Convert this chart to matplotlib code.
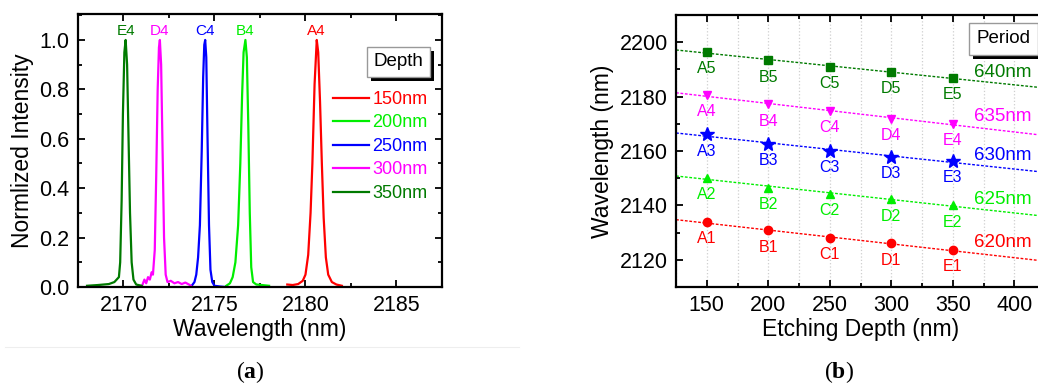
import matplotlib
matplotlib.use('Agg')
import matplotlib.pyplot as plt
import matplotlib.patheffects as pe
from matplotlib.ticker import MultipleLocator
import numpy as np

plt.rcParams['font.family'] = ['Liberation Sans', 'DejaVu Sans']
plt.rcParams['mathtext.fontset'] = 'custom'
plt.rcParams['mathtext.bf'] = 'Liberation Serif:bold'
plt.rcParams['mathtext.rm'] = 'Liberation Serif'

# ---- panel (a): normalized spectra ----
depths = ['150nm', '200nm', '250nm', '300nm', '350nm']
peak_names = ['A4', 'B4', 'C4', 'D4', 'E4']
colors = ['#ff0000', '#00ee00', '#0000ff', '#ff00ff', '#007a00']

a4_x = [2179.0, 2179.3, 2179.6, 2179.85, 2180.0, 2180.15, 2180.28, 2180.38, 2180.5, 2180.62,
        2180.7, 2180.8, 2180.9, 2181.0, 2181.12, 2181.25, 2181.45, 2181.7, 2182.0]
a4_y = [0.01, 0.008, 0.012, 0.025, 0.05, 0.13, 0.3, 0.5, 0.82, 1.0,
        0.95, 0.75, 0.5, 0.28, 0.12, 0.05, 0.02, 0.01, 0.005]
b4_x = [2175.65, 2175.85, 2176.0, 2176.15, 2176.3, 2176.42, 2176.52, 2176.6, 2176.7, 2176.78,
        2176.86, 2176.94, 2177.02, 2177.12, 2177.3, 2177.6, 2178.0]
b4_y = [0.005, 0.015, 0.04, 0.1, 0.25, 0.5, 0.78, 0.95, 1.0, 0.93,
        0.65, 0.3, 0.08, 0.02, 0.01, 0.008, 0.005]
c4_x = [2173.75, 2173.9, 2174.0, 2174.1, 2174.2, 2174.3, 2174.38, 2174.44, 2174.49, 2174.55,
        2174.62, 2174.7, 2174.78, 2174.88, 2175.0, 2175.3, 2175.6]
c4_y = [0.005, 0.02, 0.05, 0.12, 0.25, 0.55, 0.85, 0.98, 1.0, 0.93,
        0.6, 0.25, 0.07, 0.02, 0.005, 0.002, 0.0]
d4_x = [2171.05, 2171.15, 2171.25, 2171.35, 2171.45, 2171.55, 2171.62, 2171.72, 2171.8, 2171.88,
        2171.95, 2172.0, 2172.07, 2172.15, 2172.23, 2172.32, 2172.42, 2172.6, 2172.8, 2173.0,
        2173.2, 2173.4, 2173.6, 2173.7]
d4_y = [0.01, 0.03, 0.015, 0.04, 0.03, 0.06, 0.05, 0.15, 0.45, 0.8,
        0.97, 1.0, 0.9, 0.55, 0.2, 0.05, 0.02, 0.025, 0.015, 0.02,
        0.012, 0.018, 0.01, 0.005]
e4_x = [2168.0, 2168.6, 2169.2, 2169.5, 2169.75, 2169.82, 2169.9, 2169.97, 2170.05, 2170.12,
        2170.2, 2170.28, 2170.36, 2170.45, 2170.55, 2170.7, 2171.0]
e4_y = [0.005, 0.008, 0.012, 0.02, 0.04, 0.1, 0.35, 0.7, 0.95, 1.0,
        0.9, 0.6, 0.3, 0.1, 0.03, 0.01, 0.005]
spec_x = [a4_x, b4_x, c4_x, d4_x, e4_x]
spec_y = [a4_y, b4_y, c4_y, d4_y, e4_y]

# ---- panel (b): peak wavelength vs etching depth ----
etch = [150, 200, 250, 300, 350]
periods = ['620nm', '625nm', '630nm', '635nm', '640nm']
wl_620 = [2133.8, 2130.8, 2127.9, 2126.0, 2123.5]
wl_625 = [2150.2, 2146.5, 2144.3, 2142.2, 2140.0]
wl_630 = [2166.1, 2162.6, 2160.0, 2157.9, 2156.4]
wl_635 = [2180.6, 2177.1, 2174.6, 2171.9, 2170.1]
wl_640 = [2196.4, 2193.3, 2191.0, 2189.0, 2186.9]
wl_all = [wl_620, wl_625, wl_630, wl_635, wl_640]
letters = ['A', 'B', 'C', 'D', 'E']
markers = ['o', '^', '*', 'v', 's']
msizes = [6, 6, 10, 6, 5.5]
period_label_y = [2126.5, 2142.2, 2158.4, 2172.8, 2188.7]

fig = plt.figure(figsize=(10.38, 3.84), dpi=100)

def style_axes(ax):
    for s in ax.spines.values():
        s.set_linewidth(1.6)
    ax.tick_params(which='both', direction='in', top=True, right=True, width=1.3,
                   labelsize=15.5, pad=6)
    ax.tick_params(which='major', length=5)
    ax.tick_params(which='minor', length=3)

def shadow_box(txt):
    txt.get_bbox_patch().set_path_effects([
        pe.SimplePatchShadow(offset=(3, -3), shadow_rgbFace='k', alpha=1), pe.Normal()])

# (a)
ax1 = fig.add_axes([0.0751, 0.2526, 0.3507, 0.7109])
for xs, ys, c, lab in zip(spec_x, spec_y, colors, depths):
    ax1.plot(xs, ys, color=c, lw=1.6, label=lab)
for xs, ys, c, name in zip(spec_x, spec_y, colors, peak_names):
    ax1.text(xs[int(np.argmax(ys))], 1.035, name, color=c, fontsize=11,
             ha='center', va='center')
ax1.set_xlim(2167.5, 2187.5)
ax1.set_ylim(0, 1.105)
ax1.xaxis.set_major_locator(MultipleLocator(5))
ax1.xaxis.set_minor_locator(MultipleLocator(2.5))
ax1.yaxis.set_major_locator(MultipleLocator(0.2))
ax1.yaxis.set_minor_locator(MultipleLocator(0.1))
ax1.yaxis.set_major_formatter(matplotlib.ticker.FormatStrFormatter('%.1f'))
style_axes(ax1)
ax1.set_xlabel('Wavelength (nm)', fontsize=16.5, labelpad=1)
ax1.set_ylabel('Normlized Intensity', fontsize=16.5, labelpad=4)
leg = ax1.legend(loc='upper left', bbox_to_anchor=(0.70, 0.718), frameon=False,
                 fontsize=13, handlelength=2.0, handletextpad=0.2,
                 labelspacing=0.36, borderpad=0, borderaxespad=0, labelcolor='linecolor')
t = ax1.text(2183.75, 0.912, 'Depth', fontsize=13.5, ha='left', va='center',
             bbox=dict(boxstyle='square,pad=0.35', fc='white', ec='#999999', lw=1))
shadow_box(t)

# (b)
ax2 = fig.add_axes([0.6513, 0.2526, 0.3555, 0.7083])
xfit = np.array([125, 425])
for ys, c, m, ms in zip(wl_all, colors, markers, msizes):
    k, b = np.polyfit(etch, ys, 1)
    ax2.plot(xfit, k * xfit + b, color=c, lw=1, ls=(0, (2, 1.2)))
    ax2.plot(etch, ys, ls='none', marker=m, ms=ms, color=c)
for j, (ys, c) in enumerate(zip(wl_all, colors)):
    for i, (xv, yv) in enumerate(zip(etch, ys)):
        ax2.annotate(letters[i] + str(j + 1), (xv, yv), xytext=(0, -12),
                     textcoords='offset points', ha='center', va='center',
                     color=c, fontsize=11.5)
    ax2.text(414, period_label_y[j], periods[j], color=c, fontsize=13.5,
             ha='right', va='center')
ax2.set_xlim(125, 425)
ax2.set_ylim(2110, 2210)
ax2.xaxis.set_major_locator(MultipleLocator(50))
ax2.xaxis.set_minor_locator(MultipleLocator(25))
ax2.yaxis.set_major_locator(MultipleLocator(20))
ax2.yaxis.set_minor_locator(MultipleLocator(10))
ax2.xaxis.grid(True, which='both', color='#cfcfcf', ls=':', lw=0.9)
ax2.set_axisbelow(True)
style_axes(ax2)
ax2.set_xlabel('Etching Depth (nm)', fontsize=16.5, labelpad=1)
ax2.set_ylabel('Wavelength (nm)', fontsize=16.5, labelpad=4)
t2 = ax2.text(368.9, 2201.3, 'Period', fontsize=13.5, ha='left', va='center',
              bbox=dict(boxstyle='square,pad=0.4', fc='white', ec='#999999', lw=1))
shadow_box(t2)

# separator and captions
fig.add_artist(plt.Line2D([0.005, 0.5], [1 - 347 / 384] * 2, color='#eeeeee', lw=0.8))
fig.text(250 / 1038, 1 - 372 / 384, r'($\mathbf{a}$)', fontsize=17, ha='center', va='center',
         family='Liberation Serif')
fig.text(839 / 1038, 1 - 372 / 384, r'($\mathbf{b}$)', fontsize=17, ha='center', va='center',
         family='Liberation Serif')

fig.savefig('out.png', dpi=100)
